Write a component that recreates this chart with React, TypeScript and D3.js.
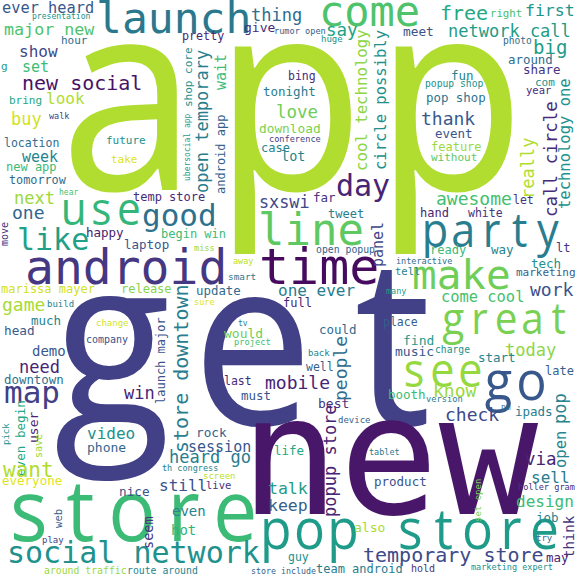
import React, { useMemo } from "react";
import * as d3 from "d3";

// word cloud data
const WORDS: string[] = [
  "app", "get", "new", "store", "pop store", "social network", "temporary store", "android", "time", "line",
  "party", "make", "great", "see", "go", "launch", "come", "use", "good", "like",
  "next", "one", "temp store", "happy", "begin win", "move", "laptop", "marissa mayer", "release", "game",
  "build", "much", "head", "change", "company", "demo", "need", "downtown", "store downtown", "launch major",
  "map", "win", "video", "phone", "user", "even begin", "pick", "save", "want", "everyone",
  "heard go", "th congress", "nice", "still", "even", "hot", "seem", "web", "play", "around traffic",
  "route around", "mobile", "must", "best", "device", "rock", "session", "life", "popup store", "screen",
  "live", "talk", "keep", "also", "guy", "store include", "team android", "product", "tablet", "people",
  "booth", "know", "version", "check", "pm", "ipads", "pop", "open", "via", "sell",
  "set open", "holler gram", "design", "job", "think", "try", "may", "hold", "marketing expert", "awesome",
  "let", "call circle", "technology one", "hand", "white", "ready", "way", "lt", "interactive", "tech",
  "tell", "marketing", "work", "come cool", "many", "place", "find", "today", "music", "charge",
  "start", "late", "sxswi", "far", "day", "tweet", "panel", "miss", "away", "open popup",
  "smart", "update", "one ever", "full", "sure", "could", "tv", "would", "project", "back",
  "well", "last", "thing", "give", "rumor open", "say", "huge", "cool technology", "circle possibly", "open temporary",
  "wait", "android app", "bing", "tonight", "love", "download", "conference", "case", "lot", "free",
  "right", "first", "meet", "network call", "big", "photo", "around", "share", "fun", "popup shop",
  "com", "year", "pop shop", "thank", "event", "feature", "without", "really", "ever heard", "presentation",
  "major new", "hour", "show", "pretty", "g", "set", "new social", "look", "bring", "buy",
  "walk", "location", "future", "take", "week", "new app", "tomorrow", "hear", "shop core", "ubersocial app",
];

// relative word weights (font size units)
const WEIGHTS: number[] = [
  268, 234, 165, 86, 56, 30, 20, 48, 50, 44,
  47, 41, 44, 47, 55, 43, 42, 46, 31, 30,
  17, 18, 12, 12.5, 12, 10, 12.5, 12, 12, 18,
  9, 12.5, 12.7, 9, 10, 14, 17, 12.4, 20, 12,
  31, 17, 16, 13, 13, 12.6, 9, 10, 21, 12.5,
  17, 8.5, 12.7, 16, 14, 14, 13.6, 10.6, 9, 9.8,
  9.8, 18, 12.5, 13, 9, 12.7, 15, 12.5, 17, 9,
  10.5, 16.5, 16.5, 13, 11.5, 8.3, 12, 12.5, 8.5, 18,
  12.5, 18, 8.7, 18, 8, 12.5, 17, 15.5, 17.5, 16,
  9, 8.6, 16, 12.5, 14, 9, 12.5, 10, 8.5, 18,
  11.5, 17.5, 15.5, 12, 11.5, 12, 12.5, 12, 8.5, 12.5,
  10.5, 11, 18, 15.4, 8.5, 11.5, 13, 17, 13, 9.7,
  12.5, 12, 16.8, 12.5, 30, 12, 15, 8.6, 8.5, 9.8,
  9.4, 12.4, 16, 12, 8.6, 12.5, 8, 13, 8.7, 9,
  11.5, 11.5, 17, 13, 8.6, 17.5, 9, 15.7, 15.5, 17,
  15, 12, 11.5, 12.5, 17.5, 12.8, 8.6, 12, 13.5, 20,
  10.7, 16.5, 12.8, 17, 19, 9.6, 12.4, 12.5, 12.5, 9.7,
  11, 10.5, 12.4, 18, 12.5, 12, 11, 17, 15.3, 8.1,
  16.7, 11, 16, 11.7, 11, 15, 20, 16, 11, 17,
  8.5, 11.5, 11, 11, 15, 12, 11.8, 8, 11, 8,
];

// layout: anchor x / baseline y in a 576 frame
const LAYOUT_X: number[] = [
  48, 42, 240, 3, 259, 7, 363, 25, 259, 258,
  421, 412, 440, 400, 482, 96, 319, 60, 142, 17,
  14, 12, 133, 86, 161, 8, 124, 1, 121, 2,
  47, 31, 4, 96, 86, 32, 19, 4, 188, 165,
  4, 124, 87, 87, 38, 25, 9, 42, 3, 2,
  169, 162, 119, 159, 172, 171, 153, 62, 42, 44,
  127, 265, 241, 318, 338, 196, 188, 274, 336, 203,
  206, 268, 268, 354, 288, 251, 316, 374, 369, 347,
  388, 433, 426, 445, 501, 515, 566, 566, 525, 531,
  481, 518, 516, 536, 574, 536, 546, 411, 471, 436,
  513, 557, 570, 420, 468, 430, 491, 556, 396, 531,
  395, 516, 530, 441, 386, 383, 403, 505, 395, 435,
  478, 545, 259, 313, 336, 328, 383, 194, 233, 316,
  228, 196, 278, 283, 194, 319, 238, 224, 234, 308,
  306, 224, 251, 244, 274, 326, 321, 367, 386, 208,
  226, 225, 288, 263, 276, 259, 269, 261, 281, 440,
  490, 525, 403, 448, 533, 503, 508, 523, 451, 425,
  535, 526, 426, 421, 435, 431, 431, 534, 2, 32,
  4, 61, 19, 182, 1, 22, 22, 46, 9, 11,
  49, 4, 106, 111, 22, 6, 9, 59, 192, 190,
];

const LAYOUT_Y: number[] = [
  190, 425, 514, 541, 549, 563, 562, 284, 284, 245,
  247, 289, 334, 387, 400, 33, 26, 225, 226, 250,
  204, 219, 201, 237, 238, 246, 249, 293, 293, 311,
  307, 325, 335, 326, 343, 356, 373, 384, 453, 404,
  403, 399, 439, 452, 443, 476, 445, 458, 477, 485,
  463, 471, 496, 491, 516, 535, 549, 528, 543, 574,
  574, 389, 400, 408, 423, 437, 452, 455, 517, 479,
  489, 494, 511, 532, 561, 574, 573, 486, 455, 401,
  399, 397, 402, 421, 410, 416, 424, 468, 465, 483,
  522, 490, 507, 522, 558, 541, 562, 572, 570, 205,
  204, 217, 209, 217, 217, 254, 254, 252, 264, 268,
  275, 276, 296, 302, 294, 326, 345, 356, 356, 353,
  362, 375, 208, 202, 196, 218, 267, 251, 264, 253,
  280, 295, 296, 307, 305, 334, 326, 338, 345, 356,
  371, 385, 21, 32, 34, 36, 42, 171, 170, 193,
  90, 194, 80, 96, 118, 133, 142, 152, 161, 20,
  17, 16, 36, 37, 54, 44, 64, 74, 80, 87,
  86, 94, 102, 125, 138, 151, 161, 199, 13, 19,
  35, 44, 57, 40, 70, 72, 90, 104, 104, 125,
  119, 147, 144, 163, 162, 171, 184, 195, 107, 181,
];

// 1 = vertical word (reads bottom to top)
const VERTICAL: number[] = [
  0, 0, 0, 0, 0, 0, 0, 0, 0, 0,
  0, 0, 0, 0, 0, 0, 0, 0, 0, 0,
  0, 0, 0, 0, 0, 1, 0, 0, 0, 0,
  0, 0, 0, 0, 0, 0, 0, 0, 1, 1,
  0, 0, 0, 0, 1, 1, 1, 1, 0, 0,
  0, 0, 0, 0, 0, 0, 1, 1, 0, 0,
  0, 0, 0, 0, 0, 0, 0, 0, 1, 0,
  0, 0, 0, 0, 0, 0, 0, 0, 0, 1,
  0, 0, 0, 0, 0, 0, 1, 1, 0, 0,
  1, 0, 0, 0, 1, 0, 0, 0, 0, 0,
  0, 1, 1, 0, 0, 0, 0, 0, 0, 0,
  0, 0, 0, 0, 0, 0, 0, 0, 0, 0,
  0, 0, 0, 0, 0, 0, 1, 0, 0, 0,
  0, 0, 0, 0, 0, 0, 0, 0, 0, 0,
  0, 0, 0, 0, 0, 0, 0, 1, 1, 1,
  1, 1, 0, 0, 0, 0, 0, 0, 0, 0,
  0, 0, 0, 0, 0, 0, 0, 0, 0, 0,
  0, 0, 0, 0, 0, 0, 0, 1, 0, 0,
  0, 0, 0, 0, 0, 0, 0, 0, 0, 0,
  0, 0, 0, 0, 0, 0, 0, 0, 1, 1,
];

// position on the viridis colour map
const TONE: number[] = [
  0.88, 0.19, 0.06, 0.68, 0.55, 0.5, 0.22, 0.16, 0.03, 0.75,
  0.42, 0.78, 0.8, 0.84, 0.27, 0.4, 0.72, 0.66, 0.37, 0.57,
  0.85, 0.33, 0.12, 0.08, 0.68, 0.15, 0.25, 0.93, 0.82, 0.87,
  0.45, 0.45, 0.28, 0.93, 0.25, 0.27, 0.1, 0.38, 0.42, 0.25,
  0.19, 0.1, 0.5, 0.33, 0.1, 0.6, 0.5, 0.85, 0.88, 0.95,
  0.42, 0.45, 0.25, 0.25, 0.45, 0.65, 0.15, 0.3, 0.2, 0.85,
  0.45, 0.1, 0.27, 0.15, 0.3, 0.3, 0.27, 0.6, 0.1, 0.9,
  0.15, 0.55, 0.3, 0.87, 0.5, 0.3, 0.42, 0.25, 0.4, 0.35,
  0.68, 0.85, 0.4, 0.22, 0.35, 0.42, 0.45, 0.45, 0.1, 0.42,
  0.8, 0.15, 0.68, 0.45, 0.15, 0.35, 0.1, 0.15, 0.5, 0.7,
  0.15, 0.12, 0.5, 0.1, 0.15, 0.68, 0.45, 0.15, 0.35, 0.5,
  0.45, 0.3, 0.25, 0.7, 0.55, 0.3, 0.55, 0.83, 0.27, 0.5,
  0.45, 0.3, 0.22, 0.15, 0.1, 0.42, 0.2, 0.85, 0.9, 0.3,
  0.4, 0.35, 0.42, 0.1, 0.95, 0.35, 0.45, 0.78, 0.7, 0.45,
  0.3, 0.12, 0.35, 0.12, 0.3, 0.58, 0.5, 0.83, 0.5, 0.42,
  0.68, 0.3, 0.12, 0.42, 0.78, 0.8, 0.2, 0.45, 0.45, 0.6,
  0.7, 0.52, 0.25, 0.55, 0.55, 0.35, 0.35, 0.15, 0.45, 0.5,
  0.5, 0.12, 0.38, 0.28, 0.25, 0.85, 0.75, 0.88, 0.27, 0.5,
  0.72, 0.35, 0.22, 0.1, 0.55, 0.68, 0.05, 0.88, 0.6, 0.93,
  0.2, 0.35, 0.5, 0.95, 0.45, 0.68, 0.35, 0.7, 0.5, 0.55,
];

const W = 576;
const H = 576;
const FRAME = 576;
const MONO = "'DejaVu Sans Mono', monospace";
const GLYPH = "'Open Sans', 'Noto Sans', sans-serif";
const CELL = 0.6; // monospace advance, in em
const CONDENSE = 0.92;

let measureCtx: CanvasRenderingContext2D | null = null;
function glyphWidth(ch: string, fs: number): number {
  if (typeof document === "undefined") return CELL * fs;
  if (!measureCtx) {
    const c = document.createElement("canvas");
    measureCtx = c.getContext("2d");
  }
  if (!measureCtx) return CELL * fs;
  measureCtx.font = `${fs}px 'Open Sans'`;
  const w = measureCtx.measureText(ch).width;
  return w > 0 ? w : CELL * fs;
}

export default function App() {
  const x = d3.scaleLinear().domain([0, FRAME]).range([0, W]);
  const y = d3.scaleLinear().domain([0, FRAME]).range([0, H]);
  const maxW = d3.max(WEIGHTS) as number;
  const size = d3.scaleLinear().domain([0, maxW]).range([0, maxW * (W / FRAME)]);
  const color = (t: number) => d3.interpolateViridis(t);

  const items = useMemo(
    () =>
      WORDS.map((w, i) => {
        const fs = size(WEIGHTS[i]);
        // large words: each glyph centred in its monospace cell
        const cellSet = fs >= 40 && !/[ilmw]/.test(w);
        const cell = CELL * fs;
        const xs = cellSet
          ? w
              .split("")
              .map((ch, k) => ((k + 0.5) * cell) / CONDENSE - glyphWidth(ch, fs) / 2)
          : [];
        return {
          text: w,
          fs,
          px: x(LAYOUT_X[i]),
          py: y(LAYOUT_Y[i]),
          vert: VERTICAL[i] === 1,
          fill: color(TONE[i]),
          cellSet,
          xs,
        };
      }),
    []
  );

  return (
    <svg
      width={W}
      height={H}
      viewBox={`0 0 ${W} ${H}`}
      style={{ position: "absolute", left: 0, top: 0, background: "#ffffff" }}
    >
      <rect width={W} height={H} fill="#ffffff" />
      {items.map((d, i) => {
        const base = d.vert
          ? `translate(${d.px},${d.py}) rotate(-90)`
          : `translate(${d.px},${d.py})`;
        if (!d.cellSet) {
          return (
            <text key={i} transform={base} fontSize={d.fs} fill={d.fill} fontFamily={MONO}>
              {d.text}
            </text>
          );
        }
        return (
          <text
            key={i}
            transform={`${base} scale(${CONDENSE},1)`}
            x={d.xs.map((v) => v.toFixed(2)).join(" ")}
            y={0}
            fontSize={d.fs}
            fill={d.fill}
            fontFamily={GLYPH}
          >
            {d.text}
          </text>
        );
      })}
    </svg>
  );
}
